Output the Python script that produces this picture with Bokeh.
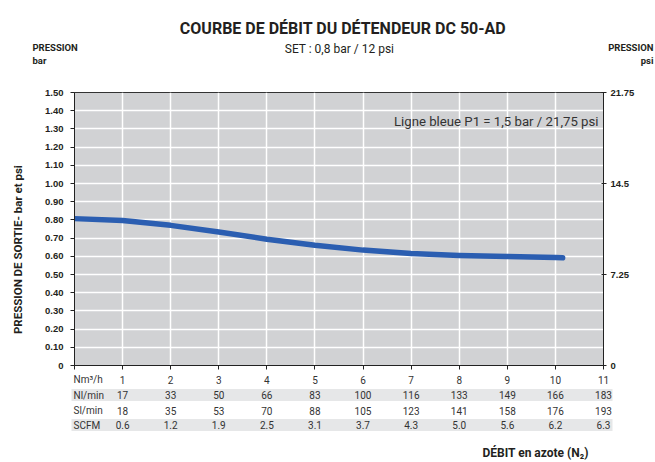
from bokeh.plotting import figure
from bokeh.layouts import column, row
from bokeh.models import Range1d, LinearAxis, FixedTicker, ColumnDataSource
from bokeh.core.properties import value
from bokeh.embed import file_html
from bokeh.resources import INLINE

# ---- data ----
flow_nm3h = [0, 1, 2, 3, 4, 5, 6, 7, 8, 9, 10, 10.15]
p_out_bar = [0.807, 0.797, 0.770, 0.733, 0.694, 0.661, 0.634, 0.615, 0.605, 0.599, 0.594, 0.592]

table_x = [1, 2, 3, 4, 5, 6, 7, 8, 9, 10, 11]
col_nm3h = ["1", "2", "3", "4", "5", "6", "7", "8", "9", "10", "11"]
col_nlmin = ["17", "33", "50", "66", "83", "100", "116", "133", "149", "166", "183"]
col_slmin = ["18", "35", "53", "70", "88", "105", "123", "141", "158", "176", "193"]
col_scfm = ["0.6", "1.2", "1.9", "2.5", "3.1", "3.7", "4.3", "5.0", "5.6", "6.2", "6.3"]
row_names = ["Nm\u00b3/h", "Nl/min", "Sl/min", "SCFM"]

bar_ticks = [round(0.1 * i, 1) for i in range(16)]
psi_ticks = [0, 7.25, 14.5, 21.75]
psi_labels = ["0", "7.25", "14.5", "21.75"]

TITLE = "COURBE DE DÉBIT DU DÉTENDEUR DC 50-AD"
SUBTITLE = "SET : 0,8 bar / 12 psi"
NOTE = "Ligne bleue P1 = 1,5 bar / 21,75 psi"
YTITLE = "PRESSION DE SORTIE- bar et psi"
XTITLE = "DÉBIT en azote (N\u2082)"

FONT = "Roboto"
ARIAL = "Liberation Sans"
DARK = "#231f20"

# ---- geometry (page px; the page template has no margin) ----
FL, FR, FT, FB = 74, 603, 92, 365
XMAX, YMAX = 11, 1.5
PXU = (FR - FL) / XMAX
def dx(px):
    return (px - FL) / PXU
def dy(py):
    return (FB - py) / ((FB - FT) / YMAX)

W = 655
HEAD_H = 86          # page 0..86
MAIN_H = 285         # page 86..371
FOOT_H = 91          # page 371..462
STRIP_W = 30


def blank(width, height, xr, yr):
    return figure(width=width, height=height, output_backend="svg", toolbar_location=None,
                  x_range=xr, y_range=yr, x_axis_type=None, y_axis_type=None,
                  min_border=0, min_border_left=0, min_border_right=0,
                  min_border_top=0, min_border_bottom=0,
                  outline_line_color=None, background_fill_color="white", border_fill_color="white")

# ---- header ----
head = blank(W, HEAD_H, Range1d(0, W), Range1d(HEAD_H, 0))
head.text(x=[342.5], y=[28], text=[TITLE], text_align="center", text_baseline="alphabetic",
          text_font=value(FONT), text_font_style="bold", text_font_size="16px", text_color=DARK)
head.text(x=[339], y=[48], text=[SUBTITLE], text_align="center", text_baseline="alphabetic",
          text_font=value(FONT), text_font_size="12px", text_color=DARK)
head.text(x=[32, 32], y=[47, 60], text=["PRESSION", "bar"], text_align="left", text_baseline="alphabetic",
          text_font=value(FONT), text_font_style="bold", text_font_size="9.5px", text_color=DARK)
head.text(x=[653, 653], y=[47, 60], text=["PRESSION", "psi"], text_align="right", text_baseline="alphabetic",
          text_font=value(FONT), text_font_style="bold", text_font_size="9.5px", text_color=DARK)

# ---- left strip with rotated title ----
strip = blank(STRIP_W, MAIN_H, Range1d(0, STRIP_W), Range1d(86 + MAIN_H, 86))
strip.text(x=[17.5], y=[250], text=[YTITLE], angle=1.5708, text_align="center", text_baseline="middle",
           text_font=value(FONT), text_font_style="bold", text_font_size="11.5px", text_color=DARK)

# ---- main chart ----
p = figure(width=W - STRIP_W, height=MAIN_H, output_backend="svg", toolbar_location=None,
           x_range=Range1d(0, XMAX), y_range=Range1d(0, YMAX),
           min_border_left=FL - STRIP_W, min_border_right=W - FR,
           min_border_top=FT - 86, min_border_bottom=86 + MAIN_H - FB,
           background_fill_color="#d1d2d4", border_fill_color="white",
           outline_line_color="#333333", outline_line_width=1)
p.extra_y_ranges = {"psi": Range1d(0, 21.75)}

p.xgrid.ticker = FixedTicker(ticks=list(range(0, 12)))
p.ygrid.ticker = FixedTicker(ticks=bar_ticks)
for g in (p.xgrid, p.ygrid):
    g.grid_line_color = "white"
    g.grid_line_width = 1.5

xa = p.xaxis[0]
xa.ticker = FixedTicker(ticks=list(range(0, 12)))
xa.major_label_text_color = None
xa.major_label_text_font_size = "0px"
xa.major_label_standoff = 0
xa.major_tick_out = 4
xa.major_tick_in = 0
xa.minor_tick_line_color = None
xa.axis_line_color = "#222222"
xa.major_tick_line_color = "#222222"

ya = p.yaxis[0]
ya.ticker = FixedTicker(ticks=bar_ticks)
ya.major_label_overrides = {t: ("0" if t == 0 else f"{t:.2f}") for t in bar_ticks}
ra = LinearAxis(y_range_name="psi", ticker=FixedTicker(ticks=psi_ticks))
ra.major_label_overrides = dict(zip(psi_ticks, psi_labels))
p.add_layout(ra, "right")
for ax, tin, tout, st in ((ya, 0, 4, 7), (ra, 2, 3, 4)):
    ax.major_label_text_font = ARIAL
    ax.major_label_text_font_style = "bold"
    ax.major_label_text_font_size = "9.5px"
    ax.major_label_text_color = DARK
    ax.major_tick_out = tout
    ax.major_tick_in = tin
    ax.major_label_standoff = st
    ax.minor_tick_line_color = None
    ax.axis_line_color = "#222222"
    ax.major_tick_line_color = "#222222"

p.line(flow_nm3h, p_out_bar, line_color="#2b5eb1", line_width=5.5, line_cap="round", line_join="round")
p.text(x=[dx(598)], y=[dy(121)], text=[NOTE], text_align="right", text_baseline="alphabetic",
       text_font=value(FONT), text_font_size="13.2px", text_color="#333333")

# ---- footer: table ----
foot = blank(W, FOOT_H, Range1d(dx(0), dx(W)), Range1d(371 + FOOT_H, 371))
row_y = [379, 394.5, 410, 424.5]
band_rows = [1, 3]
foot.quad(left=[dx(71)] * len(band_rows), right=[dx(612)] * len(band_rows),
          top=[row_y[i] - 6 for i in band_rows], bottom=[row_y[i] + 6 for i in band_rows],
          fill_color="#e6e7e8", line_color=None)
foot.text(x=[dx(73)] * 4, y=row_y, text=row_names, text_align="left", text_baseline="middle",
          text_font=value(FONT), text_font_size="10px", text_color="#333333")
for vals, ry in zip([col_nm3h, col_nlmin, col_slmin, col_scfm], row_y):
    src = ColumnDataSource(dict(x=table_x, y=[ry] * len(table_x), t=vals))
    foot.text(x="x", y="y", text="t", source=src, text_align="center", text_baseline="middle",
              text_font=value(FONT), text_font_size="10px", text_color="#333333")
foot.text(x=[dx(482)], y=[452], text=[XTITLE], text_align="left", text_baseline="alphabetic",
          text_font=value(FONT), text_font_style="bold", text_font_size="12px", text_color=DARK)

layout = column(head, row(strip, p, spacing=0), foot, spacing=0)

open("out.html", "w").write(file_html(layout, INLINE))
